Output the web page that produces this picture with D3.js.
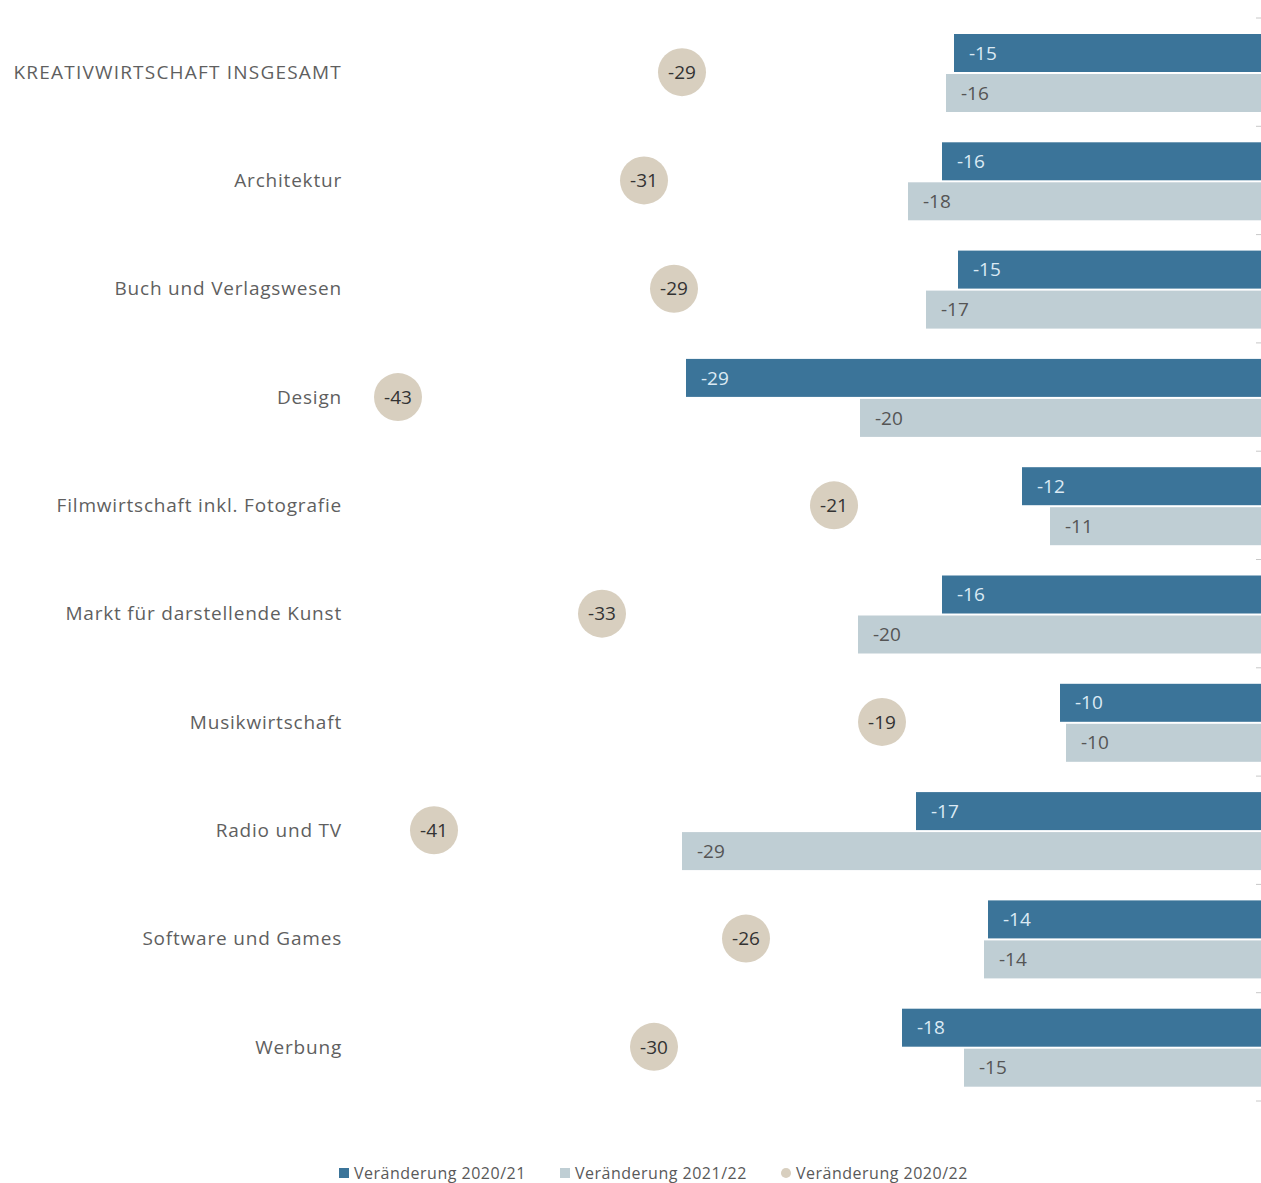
<!DOCTYPE html>
<meta charset="utf-8">
<style>
	body { margin: 0; background: #fff; }
	svg text { font-family: "Open Sans", "DejaVu Sans", sans-serif; }
</style>
<svg width="1261" height="1183"></svg>
<script src="https://d3js.org/d3.v7.min.js"></script>
<script>
	var categories = ['KREATIVWIRTSCHAFT INSGESAMT', 'Architektur', 'Buch und Verlagswesen', 'Design',
		'Filmwirtschaft inkl. Fotografie', 'Markt für darstellende Kunst', 'Musikwirtschaft',
		'Radio und TV', 'Software und Games', 'Werbung']
	// Veränderung 2020/21
	var change2021 = [-15.4, -16.0, -15.2, -28.8, -12.0, -16.0, -10.1, -17.3, -13.7, -18.0]
	// Veränderung 2021/22
	var change2122 = [-15.8, -17.7, -16.8, -20.1, -10.6, -20.2, -9.8, -29.0, -13.9, -14.9]
	// Veränderung 2020/22
	var change2022 = [-29.0, -30.9, -29.4, -43.2, -21.4, -33.0, -19.0, -41.4, -25.8, -30.4]
	var seriesNames = ['Veränderung 2020/21', 'Veränderung 2021/22', 'Veränderung 2020/22']

	var colors = ['#3b7499', '#bfced4', '#d8cfbf']

	var svg = d3.select('svg')

	var x = d3.scaleLinear().domain([-45, 0]).range([362, 1262])
	var y = d3.scaleBand().domain(categories).range([18, 1101])
	var ySub = d3.scaleBand().domain([0, 1]).range([16, 94]).paddingInner(0.05)

	// einfacher Bindestrich statt Unicode-Minus
	var fmt = d => String(Math.round(d))

	// kleine Striche rechts
	svg.append('g')
		.selectAll('line')
		.data(d3.range(categories.length + 1))
		.join('line')
		.attr('x1', 1256).attr('x2', 1261)
		.attr('y1', d => 18 + d * y.bandwidth())
		.attr('y2', d => 18 + d * y.bandwidth())
		.attr('stroke', '#c8c8c8')

	// Kategorien
	svg.append('g')
		.selectAll('text')
		.data(categories)
		.join('text')
		.attr('x', 342)
		.attr('y', d => y(d) + y.bandwidth() / 2)
		.attr('dy', '0.35em')
		.attr('text-anchor', 'end')
		.attr('fill', '#5f5f5f')
		.attr('font-size', 19)
		.attr('letter-spacing', (d, i) => i === 0 ? 1.2 : 0.8)
		.text(d => d)

	var rows = categories.map((c, i) => ({ name: c, vals: [change2021[i], change2122[i]] }))

	var row = svg.append('g').selectAll('g')
		.data(rows)
		.join('g')
		.attr('transform', d => 'translate(0,' + y(d.name) + ')')

	row.selectAll('rect')
		.data(d => d.vals)
		.join('rect')
		.attr('x', d => x(d))
		.attr('y', (d, i) => ySub(i))
		.attr('width', d => x(0) - x(d))
		.attr('height', ySub.bandwidth())
		.attr('fill', (d, i) => colors[i])

	row.selectAll('text')
		.data(d => d.vals)
		.join('text')
		.attr('x', d => x(d) + 15)
		.attr('y', (d, i) => ySub(i) + ySub.bandwidth() / 2)
		.attr('dy', '0.35em')
		.attr('fill', (d, i) => i === 0 ? '#dbeaf4' : '#555')
		.attr('font-size', 19)
		.text(fmt)

	// Kreise
	var dots = svg.append('g').selectAll('g')
		.data(categories)
		.join('g')
		.attr('transform', (d, i) => 'translate(' + x(change2022[i]) + ',' + (y(d) + y.bandwidth() / 2) + ')')
	dots.append('circle')
		.attr('r', 24)
		.attr('fill', colors[2])
	dots.append('text')
		.attr('text-anchor', 'middle')
		.attr('dy', '0.35em')
		.attr('fill', '#333')
		.attr('font-size', 19)
		.text((d, i) => fmt(change2022[i]))

	// Legende
	var legX = [339, 560, 781]
	var leg = svg.append('g').selectAll('g')
		.data(seriesNames)
		.join('g')
		.attr('transform', (d, i) => 'translate(' + legX[i] + ',1173)')
	leg.append('path')
		.attr('d', (d, i) => i < 2 ? 'M0,-5h10v10h-10z' : d3.symbol(d3.symbolCircle, 80)())
		.attr('transform', (d, i) => i < 2 ? null : 'translate(5,0)')
		.attr('fill', (d, i) => colors[i])
	leg.append('text')
		.attr('x', 15)
		.attr('dy', '0.35em')
		.attr('fill', '#595959')
		.attr('font-size', 16)
		.attr('letter-spacing', 0.5)
		.text(d => d)
</script>
